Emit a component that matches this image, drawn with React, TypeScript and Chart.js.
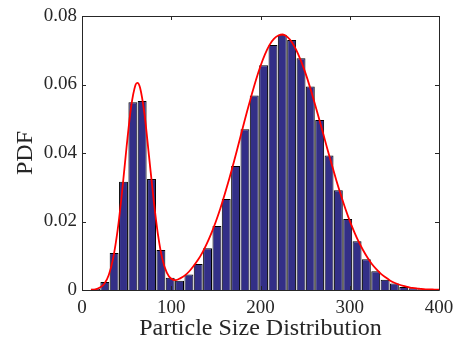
import React, { useEffect, useRef } from "react";
import { Chart, registerables } from "chart.js";

Chart.register(...registerables);

const binCenters = [15.1, 25.6, 36.0, 46.5, 57.0, 67.4, 77.9, 88.4, 98.8, 109.3, 119.8, 130.2, 140.7, 151.2, 161.6, 172.1, 182.6, 193.0, 203.5, 214.0, 224.4, 234.9, 245.4, 255.8, 266.3, 276.8, 287.2, 297.7, 308.2, 318.6, 329.1, 339.6, 350.0, 360.5, 371.0, 381.4];
const binHeights = [0.0004, 0.0023, 0.0108, 0.0316, 0.0548, 0.0552, 0.0324, 0.0117, 0.0036, 0.0027, 0.0045, 0.0076, 0.0122, 0.0187, 0.0266, 0.0362, 0.0469, 0.0568, 0.0656, 0.0715, 0.0745, 0.073, 0.0677, 0.0594, 0.0496, 0.0393, 0.0291, 0.0207, 0.0142, 0.009, 0.0055, 0.003, 0.0019, 0.0009, 0.0005, 0.0002];

const fitX = [10, 15, 20, 25, 30, 35, 40, 45, 50, 55, 60, 62, 65, 70, 75, 80, 85, 90, 95, 100, 105, 110, 115, 120, 125, 130, 135, 140, 145, 150, 155, 160, 165, 170, 175, 180, 185, 190, 195, 200, 205, 210, 215, 220, 225, 230, 235, 240, 245, 250, 255, 260, 265, 270, 275, 280, 285, 290, 295, 300, 305, 310, 315, 320, 325, 330, 335, 340, 345, 350, 355, 360, 365, 370, 375, 380, 385, 390, 395, 400];
const fitY = [0.0001, 0.0002, 0.0007, 0.0018, 0.0044, 0.0094, 0.0176, 0.0289, 0.0419, 0.0534, 0.0599, 0.0605, 0.0591, 0.0514, 0.0393, 0.027, 0.0164, 0.0091, 0.0051, 0.0033, 0.0029, 0.0034, 0.0042, 0.0054, 0.007, 0.0088, 0.011, 0.0136, 0.0166, 0.02, 0.0238, 0.028, 0.0325, 0.0372, 0.0422, 0.0472, 0.0522, 0.0569, 0.0614, 0.0654, 0.0688, 0.0715, 0.0733, 0.0743, 0.0746, 0.0739, 0.0724, 0.0701, 0.0671, 0.0636, 0.0596, 0.0552, 0.0506, 0.0459, 0.0411, 0.0365, 0.032, 0.0278, 0.0238, 0.0202, 0.017, 0.0141, 0.0116, 0.0094, 0.0075, 0.006, 0.0047, 0.0037, 0.0028, 0.0021, 0.0016, 0.0012, 0.0009, 0.0006, 0.0005, 0.0003, 0.0002, 0.0002, 0.0001, 0.0001];

const xTicks = [0, 100, 200, 300, 400];
const yTicks = [0, 0.02, 0.04, 0.06, 0.08];
const xTitle = "Particle Size Distribution";
const yTitle = "PDF";

const FONT = "'Liberation Serif', 'Times New Roman', serif";
const AXIS_COLOR = "#262626";

const boxPlugin = {
  id: "boxTicks",
  afterDatasetsDraw(chart: any) {
    const { ctx, chartArea, scales } = chart;
    const { left, right, top, bottom } = chartArea;
    const xs = scales.x;
    const ys = scales.y;
    const tl = 4;
    ctx.save();
    ctx.strokeStyle = AXIS_COLOR;
    ctx.lineWidth = 1;
    ctx.beginPath();
    ctx.rect(Math.round(left) + 0.5, Math.round(top) + 0.5, Math.round(right) - Math.round(left), Math.round(bottom) - Math.round(top));
    ctx.stroke();
    ctx.beginPath();
    xTicks.forEach((v) => {
      const px = Math.round(xs.getPixelForValue(v)) + 0.5;
      ctx.moveTo(px, bottom);
      ctx.lineTo(px, bottom - tl);
      ctx.moveTo(px, top);
      ctx.lineTo(px, top + tl);
    });
    yTicks.forEach((v) => {
      const py = Math.round(ys.getPixelForValue(v)) + 0.5;
      ctx.moveTo(left, py);
      ctx.lineTo(left + tl, py);
      ctx.moveTo(right, py);
      ctx.lineTo(right - tl, py);
    });
    ctx.stroke();
    ctx.restore();
  },
};

export default function App() {
  const ref = useRef<HTMLCanvasElement | null>(null);
  useEffect(() => {
    if (!ref.current) return;
    const chart = new Chart(ref.current, {
      type: "bar",
      data: {
        datasets: [
          {
            type: "line",
            data: fitX.map((x, i) => ({ x, y: fitY[i] })),
            borderColor: "#ff0000",
            borderWidth: 1.8,
            pointRadius: 0,
            fill: false,
            cubicInterpolationMode: "monotone",
            order: 0,
          } as any,
          {
            type: "bar",
            data: binCenters.map((x, i) => ({ x, y: binHeights[i] })),
            backgroundColor: "#332f87",
            borderColor: "#000000",
            borderWidth: 1,
            barPercentage: 0.96,
            categoryPercentage: 1,
            order: 1,
          } as any,
        ],
      },
      options: {
        responsive: false,
        animation: false,
        layout: { padding: { top: 16, right: 18, left: 0, bottom: 0 } },
        plugins: { legend: { display: false }, tooltip: { enabled: false } },
        scales: {
          x: {
            type: "linear",
            min: 0,
            max: 400,
            offset: false,
            afterBuildTicks: (s: any) => {
              s.ticks = xTicks.map((v) => ({ value: v }));
            },
            afterFit: (s: any) => {
              s.height = 53;
              s.paddingRight = 0;
              s.paddingLeft = 0;
            },
            grid: { display: false, drawTicks: false, offset: false },
            border: { display: false },
            ticks: {
              color: AXIS_COLOR,
              font: { family: FONT, size: 19 },
              padding: 7,
              maxRotation: 0,
              callback: (v: any) => String(v),
            },
            title: {
              display: true,
              text: xTitle,
              color: AXIS_COLOR,
              font: { family: FONT, size: 24 },
              padding: { top: 0, bottom: 0 },
            },
          },
          y: {
            type: "linear",
            min: 0,
            max: 0.08,
            afterBuildTicks: (s: any) => {
              s.ticks = yTicks.map((v) => ({ value: v }));
            },
            afterFit: (s: any) => {
              s.width = 82;
              s.paddingTop = 0;
              s.paddingBottom = 0;
            },
            grid: { display: false, drawTicks: false },
            border: { display: false },
            ticks: {
              color: AXIS_COLOR,
              font: { family: FONT, size: 19 },
              padding: 5,
              callback: (v: any) => (v === 0 ? "0" : Number(v).toFixed(2)),
            },
            title: {
              display: true,
              text: yTitle,
              color: AXIS_COLOR,
              font: { family: FONT, size: 24 },
              padding: { top: 11, bottom: 0 },
            },
          },
        },
      },
      plugins: [boxPlugin],
    });
    return () => chart.destroy();
  }, []);
  return (
    <div style={{ position: "fixed", left: 0, top: 0, width: 457, height: 343, background: "#fff" }}>
      <canvas ref={ref} width={457} height={343} style={{ display: "block" }} />
    </div>
  );
}
